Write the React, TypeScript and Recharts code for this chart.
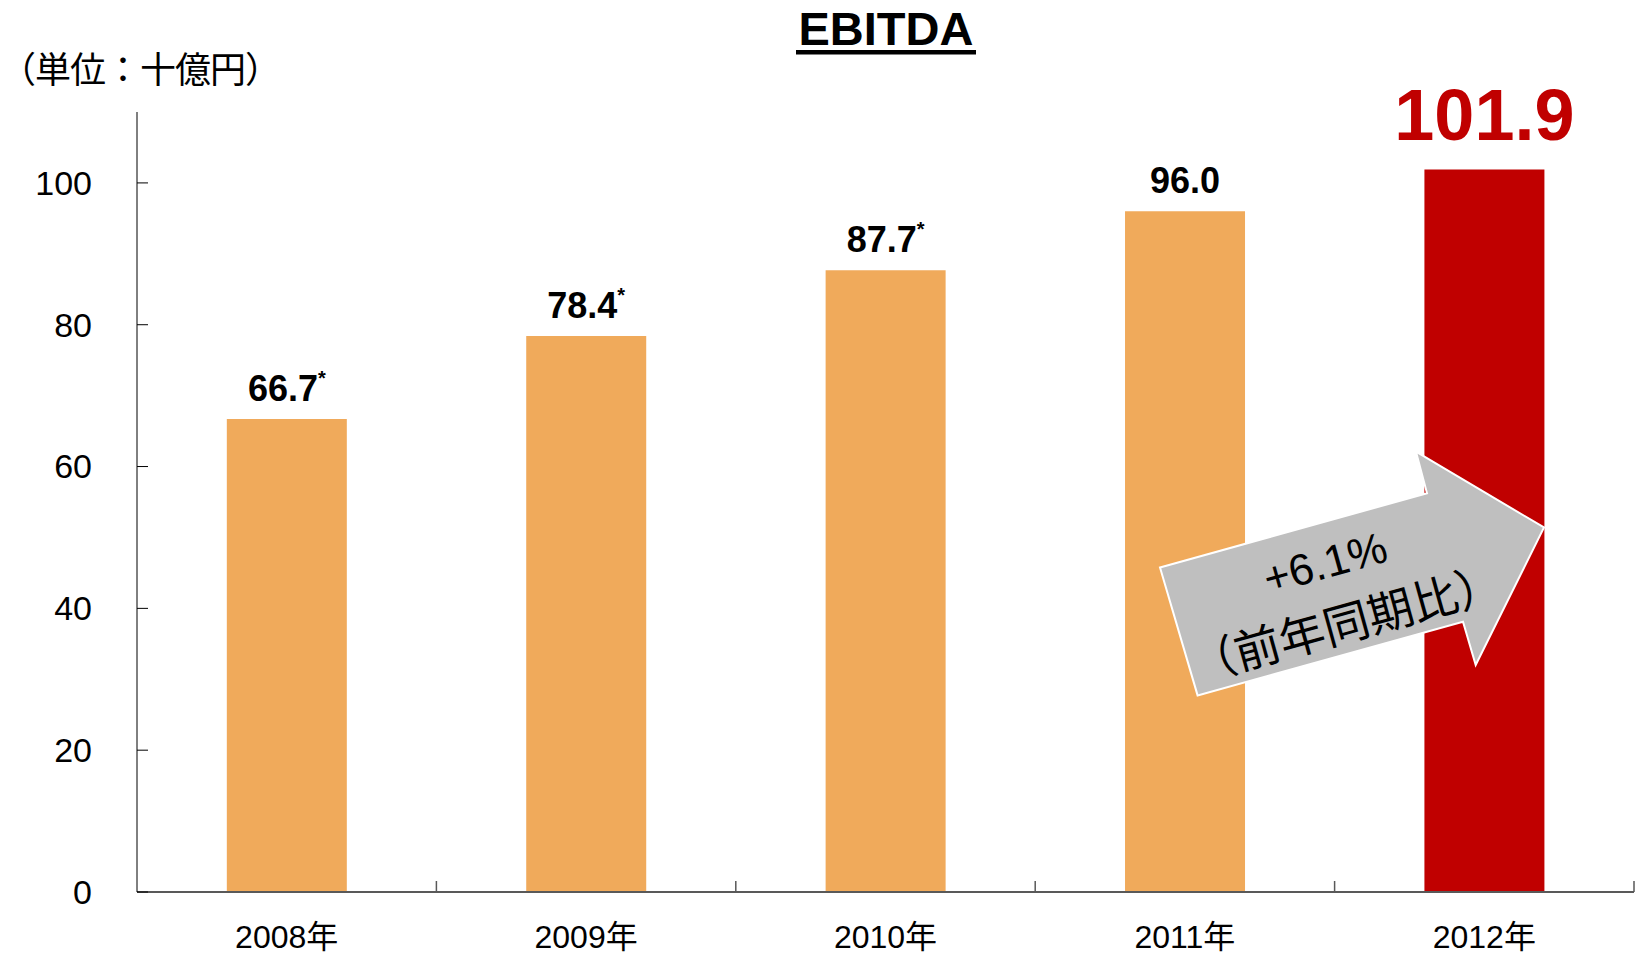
import { BarChart, Bar, XAxis, YAxis, Cell, LabelList } from 'recharts'

const years = ['2008年', '2009年', '2010年', '2011年', '2012年']
const ebitda = [66.7, 78.4, 87.7, 96.0, 101.9]
const footnotes = ['*', '*', '*', '', '']
const yTicks = [0, 20, 40, 60, 80, 100]
const highlightYear = '2012年'

const W = 1637
const H = 956
const PLOT_LEFT = 137
const PLOT_RIGHT = 1634
const PLOT_TOP = 112
const X_AXIS_H = 64

const LATIN = "'Liberation Sans', Arial, 'Noto Sans CJK JP', sans-serif"
const CJK = "'Noto Sans CJK JP', 'Liberation Sans', sans-serif"
const ORANGE = '#F0AA5B'
const RED = '#C00000'

const chartData = years.map((year, i) => ({ year, value: ebitda[i], note: footnotes[i] }))

function XTick(props: any) {
  const { x, y, payload } = props
  const step = (PLOT_RIGHT - PLOT_LEFT) / years.length
  return (
    <g>
      <line x1={x + step / 2} x2={x + step / 2} y1={y} y2={y - 11} stroke="#595959" strokeWidth={1.5} />
      <text x={x} y={y + 56} textAnchor="middle" fontSize={32} fontFamily={LATIN} fill="#000">
        {payload.value}
      </text>
    </g>
  )
}

function YTick(props: any) {
  const { x, y, payload } = props
  return (
    <g>
      <line x1={x} x2={x + 11} y1={y} y2={y} stroke="#000" strokeWidth={1} />
      <text x={x - 45} y={y} dy="0.35em" textAnchor="end" fontSize={34} fontFamily={LATIN} fill="#000">
        {payload.value}
      </text>
    </g>
  )
}

function ValueLabel(props: any) {
  const vb = props.viewBox || {}
  const x = props.x ?? vb.x
  const y = props.y ?? vb.y
  const width = props.width ?? vb.width
  const row = chartData[props.index]
  if (!row) return null
  const cx = x + width / 2
  if (row.year === highlightYear) {
    return (
      <text x={cx} y={y - 29} textAnchor="middle" fontSize={72} fontWeight="bold" fontFamily={LATIN} fill={RED}>
        {row.value.toFixed(1)}
      </text>
    )
  }
  return (
    <text x={cx} y={y - 18} textAnchor="middle" fontSize={36} fontWeight="bold" fontFamily={LATIN} fill="#000">
      {row.value.toFixed(1)}
      {row.note && (
        <tspan fontSize={20} dy={-16}>
          {row.note}
        </tspan>
      )}
    </text>
  )
}

function Overlay() {
  return (
    <svg width={W} height={H} style={{ position: 'absolute', left: 0, top: 0, pointerEvents: 'none' }}>
      <text x={886} y={45} textAnchor="middle" fontSize={47} fontWeight="bold" fontFamily={LATIN} fill="#000">
        EBITDA
      </text>
      <rect x={796} y={50} width={180} height={4.5} fill="#000" />
      <text x={0} y={67} dominantBaseline="central" fontSize={36} fontFamily={CJK} fill="#000" letterSpacing={-1}>
        （単位：十億円）
      </text>
      <polygon
        points="1160,567.5 1427,493.3 1416,451.7 1544,527.5 1475.7,665 1463,621.7 1197.6,695.4"
        fill="#BFBFBF"
        stroke="#fff"
        strokeWidth={2}
      />
      <g transform="translate(1335,591) rotate(-15.5)">
        <text x={-2} y={-30} dominantBaseline="central" textAnchor="middle" fontSize={44} fontFamily={LATIN} fill="#000">
          +6.1%
        </text>
        <text x={2} y={31} dominantBaseline="central" textAnchor="middle" fontSize={46} fontFamily={CJK} fill="#000">
          （前年同期比）
        </text>
      </g>
    </svg>
  )
}

export default function App() {
  return (
    <div style={{ position: 'absolute', left: 0, top: 0, width: W, height: H, background: '#fff' }}>
      <BarChart
        width={W}
        height={H}
        data={chartData}
        margin={{ top: PLOT_TOP, right: W - PLOT_RIGHT, left: 0, bottom: 0 }}
        barCategoryGap="30%"
      >
        <XAxis
          dataKey="year"
          height={X_AXIS_H}
          interval={0}
          axisLine={{ stroke: '#595959', strokeWidth: 2 }}
          tickLine={false}
          tickSize={0}
          tickMargin={0}
          tick={(p: any) => <XTick {...p} />}
        />
        <YAxis
          width={PLOT_LEFT}
          domain={[0, 110]}
          ticks={yTicks}
          interval={0}
          axisLine={{ stroke: '#000', strokeWidth: 1 }}
          tickLine={false}
          tickSize={0}
          tickMargin={0}
          tick={(p: any) => <YTick {...p} />}
        />
        <Bar dataKey="value" isAnimationActive={false}>
          {chartData.map((d) => (
            <Cell key={d.year} fill={d.year === highlightYear ? RED : ORANGE} />
          ))}
          <LabelList dataKey="value" content={(p: any) => <ValueLabel {...p} />} />
        </Bar>
      </BarChart>
      <Overlay />
    </div>
  )
}
